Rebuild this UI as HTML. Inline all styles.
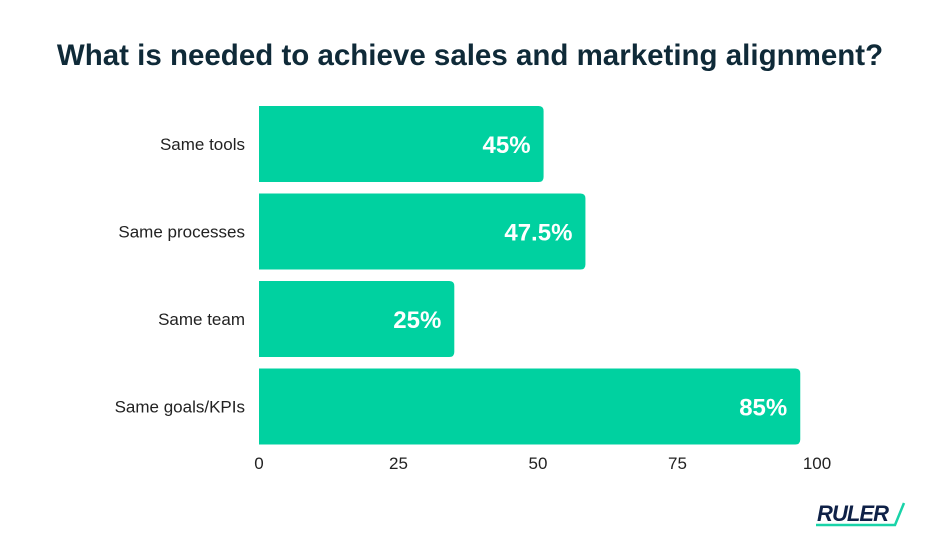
<!DOCTYPE html>
<html><head><meta charset="utf-8"><style>
html,body{margin:0;padding:0;background:#fff;}
body{width:940px;height:550px;overflow:hidden;font-family:"Liberation Sans",sans-serif;}
</style></head><body>
<svg id="chart" width="940" height="550">
<text x="470" y="65" text-anchor="middle" font-size="29.5" font-weight="bold" fill="#0f2a38">What is needed to achieve sales and marketing alignment?</text>
<g id="bars"></g>
<g id="xticks"></g>
<g>
<text x="817" y="521" font-size="22" font-weight="bold" font-style="italic" fill="#0f2147" textLength="72">RULER</text>
<path d="M816 525 L895 525 L904 503" stroke="#19d3a8" stroke-width="2.5" fill="none"/>
</g>
</svg>
<script>
const categories = ["Same tools","Same processes","Same team","Same goals/KPIs"];
const barValues = [51, 58.5, 35, 97];
const valueLabels = ["45%","47.5%","25%","85%"];
const tickValues = [0,25,50,75,100];
const tickLabels = ["0","25","50","75","100"];
const NS="http://www.w3.org/2000/svg";
const x0=259,x1=817,top0=106,pitch=87.5,bh=76;
const xs=v=>x0+(x1-x0)*v/100;
const ys=i=>top0+i*pitch;
const gb=document.getElementById('bars');
categories.forEach((c,i)=>{
  const w=xs(barValues[i])-x0,y=ys(i),r=5;
  const p=document.createElementNS(NS,'path');
  p.setAttribute('d',`M${x0} ${y} H${x0+w-r} Q${x0+w} ${y} ${x0+w} ${y+r} V${y+bh-r} Q${x0+w} ${y+bh} ${x0+w-r} ${y+bh} H${x0} Z`);
  p.setAttribute('fill','#00d1a0');
  
  
  gb.appendChild(p);
  const l=document.createElementNS(NS,'text');
  l.setAttribute('x',245);l.setAttribute('y',y+bh/2+6);
  l.setAttribute('text-anchor','end');l.setAttribute('font-size','17');l.setAttribute('fill','#222');
  l.textContent=c;
  
  
  gb.appendChild(l);
  const v=document.createElementNS(NS,'text');
  v.setAttribute('x',x0+w-13);v.setAttribute('y',y+bh/2+9);
  v.setAttribute('text-anchor','end');v.setAttribute('font-size','24');v.setAttribute('font-weight','bold');v.setAttribute('fill','#fff');
  v.textContent=valueLabels[i];
  
  
  gb.appendChild(v);
});
const gt=document.getElementById('xticks');
tickValues.forEach((t,i)=>{
  const e=document.createElementNS(NS,'text');
  e.setAttribute('x',xs(t));e.setAttribute('y',469);
  e.setAttribute('text-anchor','middle');e.setAttribute('font-size','17');e.setAttribute('fill','#222');
  e.textContent=tickLabels[i];
  
  
  gt.appendChild(e);
});
</script>
</body></html>
